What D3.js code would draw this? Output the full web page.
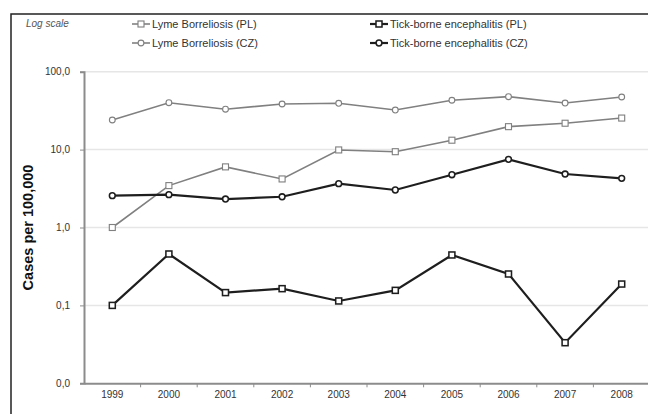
<!DOCTYPE html>
<html>
<head>
<meta charset="utf-8">
<script src="https://cdn.jsdelivr.net/npm/d3@7"></script>
<style>
    body { margin: 0; background: #fff; }
    svg { display: block; font-family: "Liberation Sans", Arial, sans-serif; }
</style>
</head>
<body>
<svg id="chart" width="648" height="414"></svg>
<script>
var years = ["1999", "2000", "2001", "2002", "2003", "2004", "2005", "2006", "2007", "2008"];

var lymePL = [1.0, 3.45, 6.0, 4.2, 9.9, 9.4, 13.2, 19.7, 21.8, 25.4];
var lymeCZ = [24, 40, 33, 38.5, 39.3, 32.2, 43, 47.8, 39.6, 47.3];
var tbePL = [0.1, 0.457, 0.146, 0.164, 0.114, 0.156, 0.444, 0.253, 0.0332, 0.188];
var tbeCZ = [2.56, 2.64, 2.32, 2.48, 3.65, 3.03, 4.76, 7.5, 4.86, 4.28];

var yTicks = [0.01, 0.1, 1, 10, 100];

var series = [
    {name: "Lyme Borreliosis (PL)", values: lymePL, color: "#808080", width: 1.6, shape: "square"},
    {name: "Lyme Borreliosis (CZ)", values: lymeCZ, color: "#808080", width: 1.6, shape: "circle"},
    {name: "Tick-borne encephalitis (PL)", values: tbePL, color: "#1e1e1e", width: 2.2, shape: "square"},
    {name: "Tick-borne encephalitis (CZ)", values: tbeCZ, color: "#1e1e1e", width: 2.2, shape: "circle"}
];

var svg = d3.select('#chart');

// outer frame (clipped at right and bottom like the source)
svg.append('rect')
    .attr('x', 11).attr('y', 14)
    .attr('width', 660).attr('height', 420)
    .attr('fill', 'none')
    .attr('stroke', '#222')
    .attr('stroke-width', 1.5);

var plotLeft = 84, plotTop = 71.7, plotBottom = 383.3;

var x = d3.scaleBand()
    .domain(years)
    .range([plotLeft, plotLeft + 566]);

var y = d3.scaleLog()
    .domain([0.01, 100])
    .range([plotBottom, plotTop]);

// gridlines
svg.append('g')
    .selectAll('line')
    .data(yTicks.slice(1))
    .enter().append('line')
    .attr('x1', plotLeft).attr('x2', 648)
    .attr('y1', function (d) { return y(d); })
    .attr('y2', function (d) { return y(d); })
    .attr('stroke', '#e6e6e6')
    .attr('stroke-width', 1.5);

var fmt = function (d) { return d3.format('.1f')(d === 0.01 ? 0 : d).replace('.', ','); };

var yAxis = svg.append('g')
    .attr('transform', 'translate(' + plotLeft + ',0)')
    .call(d3.axisLeft(y).tickValues(yTicks).tickFormat(fmt).tickSize(4).tickPadding(10));
yAxis.select('.domain').attr('stroke', '#8c8c8c').attr('stroke-width', 2);
yAxis.selectAll('.tick line').attr('stroke', '#8c8c8c');
yAxis.selectAll('text').attr('fill', '#333').style('font-size', '10px');

var xAxis = svg.append('g')
    .attr('transform', 'translate(0,' + plotBottom + ')')
    .call(d3.axisBottom(x).tickSize(0).tickPadding(8));
xAxis.select('.domain').attr('stroke', '#8c8c8c').attr('stroke-width', 2);
xAxis.selectAll('text').attr('fill', '#333').style('font-size', '10px');

// tick marks between categories
svg.append('g')
    .selectAll('line')
    .data(years.slice(1))
    .enter().append('line')
    .attr('x1', function (d) { return x(d); })
    .attr('x2', function (d) { return x(d); })
    .attr('y1', plotBottom).attr('y2', plotBottom + 4)
    .attr('stroke', '#8c8c8c');

var cx = function (i) { return x(years[i]) + x.bandwidth() / 2; };
var line = d3.line()
    .x(function (d, i) { return cx(i); })
    .y(function (d) { return y(d); });

function drawMarker(g, shape, color, w) {
    if (shape === "square") {
        g.append('rect')
            .attr('x', -3).attr('y', -3)
            .attr('width', 6).attr('height', 6)
            .attr('fill', '#fff').attr('stroke', color).attr('stroke-width', w * 0.7);
    } else {
        g.append('circle')
            .attr('r', 2.9)
            .attr('fill', '#fff').attr('stroke', color).attr('stroke-width', w * 0.7);
    }
}

series.forEach(function (s) {
    svg.append('path')
        .attr('d', line(s.values))
        .attr('fill', 'none')
        .attr('stroke', s.color)
        .attr('stroke-width', s.width);
    s.values.forEach(function (v, i) {
        var g = svg.append('g').attr('transform', 'translate(' + cx(i) + ',' + y(v) + ')');
        drawMarker(g, s.shape, s.color, s.width);
    });
});

// y label
svg.append('text')
    .attr('transform', 'translate(33,' + ((plotTop + plotBottom) / 2) + ') rotate(-90)')
    .attr('text-anchor', 'middle')
    .style('font-size', '14.5px')
    .style('font-weight', 'bold')
    .attr('fill', '#111')
    .text('Cases per 100,000');

svg.append('text')
    .attr('x', 26).attr('y', 27)
    .style('font-size', '10px')
    .style('font-style', 'italic')
    .attr('fill', '#555')
    .text('Log scale');

// legend
var legendPos = [[132, 24], [132, 43], [370, 24], [370, 43]];
series.forEach(function (s, i) {
    var g = svg.append('g').attr('transform', 'translate(' + legendPos[i][0] + ',' + legendPos[i][1] + ')');
    g.append('line').attr('x1', 0).attr('x2', 18).attr('stroke', s.color).attr('stroke-width', s.width);
    drawMarker(g.append('g').attr('transform', 'translate(9,0)'), s.shape, s.color, s.width);
    g.append('text')
        .attr('x', 20).attr('y', 4)
        .style('font-size', '11px')
        .attr('fill', '#333')
        .text(s.name);
});
</script>
</body>
</html>
